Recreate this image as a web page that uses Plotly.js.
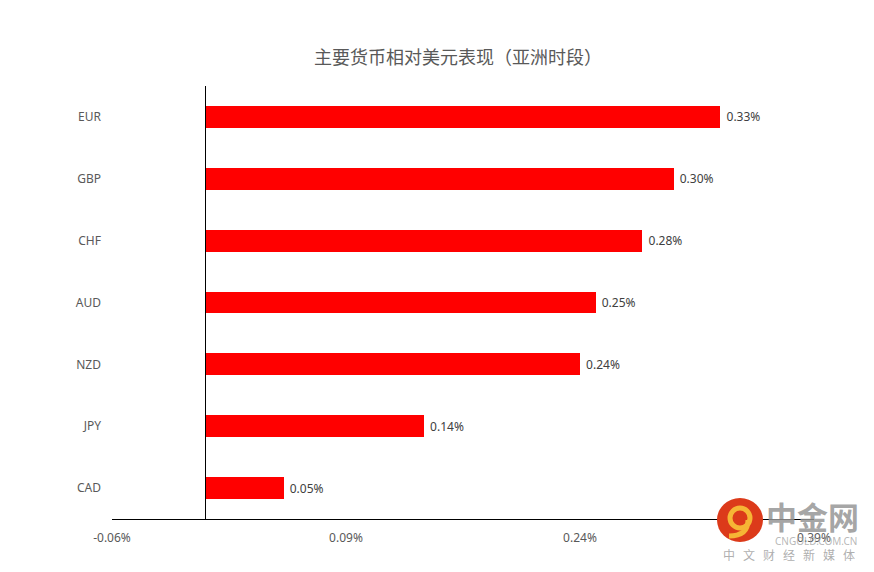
<!DOCTYPE html>
<html>
<head>
<meta charset="utf-8">
<script src="https://cdn.plot.ly/plotly-3.0.1.min.js"></script>
<style>html,body{margin:0;padding:0;background:#fff;}#chart{width:874px;height:572px;}</style>
</head>
<body>
<div id="chart"></div>
<script>
const categories = ["EUR", "GBP", "CHF", "AUD", "NZD", "JPY", "CAD"];
const values = [0.33, 0.30, 0.28, 0.25, 0.24, 0.14, 0.05];
const tickValues = [-0.06, 0.09, 0.24, 0.39];
const tickLabels = ["-0.06%", "0.09%", "0.24%", "0.39%"];
const titleText = "主要货币相对美元表现（亚洲时段）";

const FONT = "Noto Sans, Noto Sans CJK SC, sans-serif";

const trace = {
  type: "bar",
  orientation: "h",
  y: categories,
  x: values,
  marker: {color: "#FF0000"},
  width: 0.355,
  text: values.map(v => "\u00A0" + v.toFixed(2) + "%"),
  textposition: "outside",
  cliponaxis: false,
  textfont: {family: FONT, size: 12, color: "#404040"},
  hoverinfo: "none"
};

// paper coords helpers for the watermark (plot area 112..814 x 86..519)
const px = x => (x - 112) / 702;
const py = y => (519 - y) / 433;

const layout = {
  width: 874, height: 572,
  margin: {l: 112, r: 60, t: 86, b: 53, pad: 0},
  paper_bgcolor: "#fff", plot_bgcolor: "#fff",
  font: {family: FONT, size: 12, color: "#595959"},
  title: {text: titleText, x: 0.524, xanchor: "center", y: 0.9, yanchor: "middle",
          font: {family: FONT, size: 18, color: "#595959"}},
  showlegend: false,
  bargap: 0,
  xaxis: {
    range: [-0.06, 0.39], fixedrange: true,
    tickvals: tickValues, ticktext: tickLabels,
    showgrid: false, zeroline: true, zerolinecolor: "#000", zerolinewidth: 1,
    showline: true, linecolor: "#000", linewidth: 1,
    ticks: "", ticklabelstandoff: 8,
    tickfont: {family: FONT, size: 12, color: "#595959"}
  },
  yaxis: {
    categoryorder: "array", categoryarray: categories.slice().reverse(),
    autorange: true, showgrid: false, zeroline: false, showline: false,
    ticks: "", ticklabelstandoff: 10,
    tickfont: {family: FONT, size: 12, color: "#595959"}
  },
  shapes: [
    {type: "circle", xref: "paper", yref: "paper", layer: "above",
     x0: px(717), x1: px(763), y0: py(542), y1: py(498),
     fillcolor: "#DC3A1A", line: {width: 0}},
    {type: "circle", xref: "paper", yref: "paper", layer: "above",
     x0: px(730), x1: px(750), y0: py(528), y1: py(508),
     fillcolor: "rgba(0,0,0,0)", line: {width: 5, color: "#F6B535"}},
    {type: "path", xref: "paper", yref: "paper", layer: "above",
     path: "M " + px(748) + "," + py(520) + " Q " + px(748) + "," + py(536) + " " + px(729) + "," + py(536),
     line: {width: 5, color: "#F6B535"}},
    {type: "circle", xref: "paper", yref: "paper", layer: "above",
     x0: px(736), x1: px(744), y0: py(522), y1: py(514),
     fillcolor: "#DC3A1A", line: {width: 0}}
  ],
  annotations: [
    {text: "<b>中金网</b>", xref: "paper", yref: "paper", x: px(764), y: py(517),
     xanchor: "left", yanchor: "middle", showarrow: false,
     font: {family: FONT, size: 31, color: "rgba(150,150,150,0.85)"}},
    {text: "CNGOLD.COM.CN", xref: "paper", yref: "paper", x: px(859), y: py(541),
     xanchor: "right", yanchor: "middle", showarrow: false,
     font: {family: FONT, size: 10, color: "rgba(165,165,165,0.8)"}},
    {text: ["中","文","财","经","新","媒","体"].join("\u2002\u2009"), xref: "paper", yref: "paper",
     x: px(788.5), y: py(555),
     xanchor: "center", yanchor: "middle", showarrow: false,
     font: {family: FONT, size: 12, color: "rgba(165,165,165,0.9)"}}
  ]
};

Plotly.newPlot("chart", [trace], layout, {displayModeBar: false, staticPlot: true});
</script>
</body>
</html>
